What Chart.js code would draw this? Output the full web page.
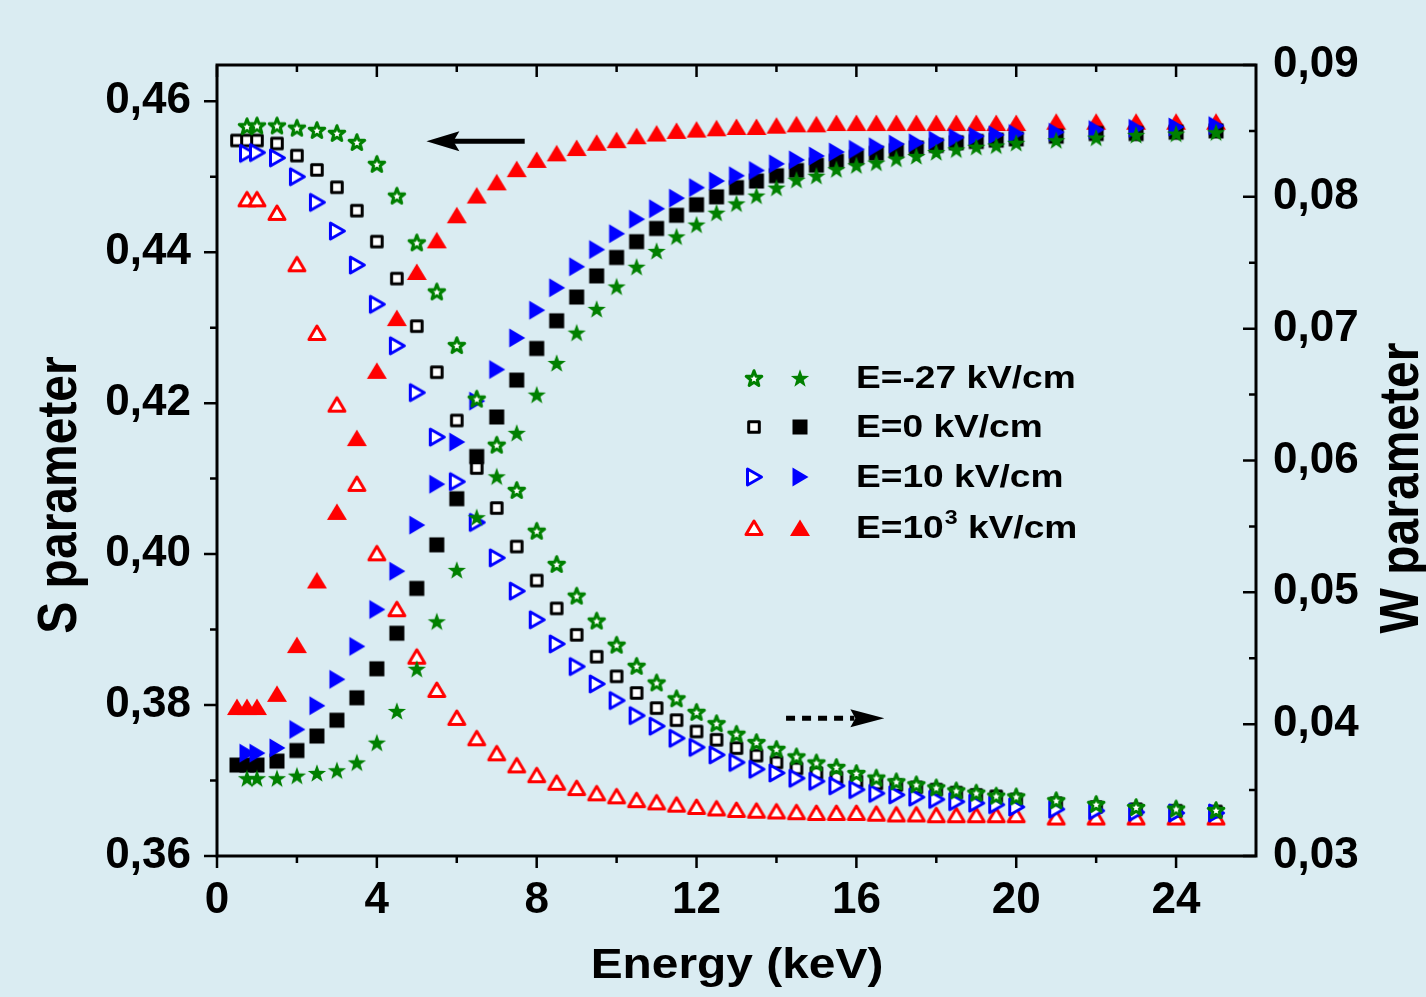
<!DOCTYPE html>
<html>
<head>
<meta charset="utf-8">
<script src="https://cdn.jsdelivr.net/npm/chart.js@4.4.1/dist/chart.umd.min.js"></script>
<style>
  html, body { margin: 0; padding: 0; background: #daecf2; }
  #wrap { width: 1426px; height: 997px; position: relative; }
</style>
</head>
<body>
<div id="wrap"><canvas id="sChart"></canvas></div>
<script>
// beam energy (keV)
const energies = [0.5, 0.75, 1, 1.5, 2, 2.5, 3, 3.5, 4, 4.5, 5, 5.5, 6, 6.5, 7, 7.5, 8, 8.5, 9, 9.5,
  10, 10.5, 11, 11.5, 12, 12.5, 13, 13.5, 14, 14.5, 15, 15.5, 16, 16.5, 17, 17.5, 18, 18.5, 19, 19.5,
  20, 21, 22, 23, 24, 25];

// S parameter (open symbols, left axis)
const sNeg27 = [null, 0.4567, 0.4568, 0.4568, 0.4565, 0.4562, 0.4558, 0.4546, 0.4517, 0.4475,
  0.4413, 0.4348, 0.4277, 0.4206, 0.4145, 0.4085, 0.4031, 0.3987, 0.3945, 0.3912,
  0.3880, 0.3852, 0.3830, 0.3809, 0.3791, 0.3776, 0.3762, 0.3751, 0.3742, 0.3732,
  0.3724, 0.3718, 0.3710, 0.3704, 0.3699, 0.3695, 0.3691, 0.3687, 0.3684, 0.3680,
  0.3679, 0.3674, 0.3669, 0.3665, 0.3663, 0.3661];
const s0 = [0.4548, 0.4548, 0.4548, 0.4544, 0.4528, 0.4509, 0.4486, 0.4455, 0.4414, 0.4365,
  0.4302, 0.4241, 0.4177, 0.4114, 0.4061, 0.4010, 0.3965, 0.3928, 0.3893, 0.3864,
  0.3838, 0.3816, 0.3796, 0.3780, 0.3765, 0.3754, 0.3743, 0.3733, 0.3724, 0.3716,
  0.3710, 0.3704, 0.3699, 0.3696, 0.3694, 0.3691, 0.3688, 0.3684, 0.3681, 0.3679,
  0.3675, 0.3670, 0.3665, 0.3662, 0.3660, 0.3659];
const s10 = [null, 0.4531, 0.4532, 0.4525, 0.4500, 0.4466, 0.4428, 0.4383, 0.4331, 0.4276,
  0.4214, 0.4155, 0.4096, 0.4042, 0.3995, 0.3951, 0.3913, 0.3881, 0.3851, 0.3828,
  0.3806, 0.3786, 0.3772, 0.3756, 0.3744, 0.3734, 0.3724, 0.3715, 0.3710, 0.3703,
  0.3699, 0.3693, 0.3688, 0.3683, 0.3681, 0.3678, 0.3675, 0.3672, 0.3670, 0.3668,
  0.3665, 0.3662, 0.3660, 0.3658, 0.3657, 0.3657];
const s1000 = [null, 0.4470, 0.4470, 0.4452, 0.4384, 0.4293, 0.4198, 0.4093, 0.4001, 0.3927,
  0.3864, 0.3820, 0.3783, 0.3756, 0.3736, 0.3720, 0.3707, 0.3697, 0.3690, 0.3683,
  0.3679, 0.3674, 0.3671, 0.3668, 0.3665, 0.3663, 0.3661, 0.3660, 0.3659, 0.3658,
  0.3657, 0.3657, 0.3657, 0.3656, 0.3655, 0.3655, 0.3654, 0.3654, 0.3654, 0.3654,
  0.3654, 0.3651, 0.3651, 0.3651, 0.3651, 0.3651];

// W parameter (filled symbols, right axis)
const wNeg27 = [null, 0.0359, 0.0359, 0.0359, 0.0361, 0.0363, 0.0365, 0.0371, 0.0386, 0.0410,
  0.0442, 0.0478, 0.0517, 0.0557, 0.0588, 0.0621, 0.0650, 0.0674, 0.0697, 0.0715,
  0.0732, 0.0747, 0.0759, 0.0770, 0.0779, 0.0788, 0.0795, 0.0801, 0.0807, 0.0813,
  0.0816, 0.0821, 0.0824, 0.0826, 0.0829, 0.0831, 0.0834, 0.0836, 0.0838, 0.0839,
  0.0841, 0.0843, 0.0845, 0.0847, 0.0848, 0.0849];
const w0 = [0.0369, 0.0369, 0.0369, 0.0372, 0.0380, 0.0391, 0.0403, 0.0420, 0.0442, 0.0469,
  0.0503, 0.0536, 0.0571, 0.0603, 0.0633, 0.0661, 0.0685, 0.0706, 0.0724, 0.0740,
  0.0754, 0.0766, 0.0776, 0.0786, 0.0794, 0.0800, 0.0807, 0.0812, 0.0816, 0.0820,
  0.0824, 0.0827, 0.0830, 0.0833, 0.0835, 0.0837, 0.0839, 0.0841, 0.0842, 0.0843,
  0.0844, 0.0846, 0.0848, 0.0848, 0.0849, 0.0850];
const w10 = [null, 0.0378, 0.0378, 0.0382, 0.0396, 0.0414, 0.0434, 0.0459, 0.0487, 0.0516,
  0.0551, 0.0582, 0.0614, 0.0645, 0.0669, 0.0693, 0.0714, 0.0731, 0.0747, 0.0760,
  0.0772, 0.0783, 0.0791, 0.0799, 0.0807, 0.0812, 0.0816, 0.0820, 0.0825, 0.0828,
  0.0831, 0.0834, 0.0836, 0.0838, 0.0840, 0.0841, 0.0843, 0.0845, 0.0846, 0.0847,
  0.0848, 0.0849, 0.0851, 0.0852, 0.0853, 0.0854];
const w1000 = [0.0413, 0.0413, 0.0413, 0.0423, 0.0460, 0.0509, 0.0561, 0.0617, 0.0668, 0.0708,
  0.0743, 0.0767, 0.0786, 0.0801, 0.0811, 0.0821, 0.0828, 0.0833, 0.0837, 0.0841,
  0.0843, 0.0846, 0.0848, 0.0850, 0.0851, 0.0852, 0.0853, 0.0853, 0.0854, 0.0855,
  0.0855, 0.0856, 0.0856, 0.0856, 0.0856, 0.0856, 0.0856, 0.0856, 0.0856, 0.0856,
  0.0856, 0.0857, 0.0857, 0.0857, 0.0857, 0.0857];

const xTicks = [0, 4, 8, 12, 16, 20, 24];
const sTicks = [0.36, 0.38, 0.40, 0.42, 0.44, 0.46];
const wTicks = [0.03, 0.04, 0.05, 0.06, 0.07, 0.08, 0.09];
const fieldLabels = ['E=-27 kV/cm', 'E=0 kV/cm', 'E=10 kV/cm', 'E=10³ kV/cm'];

const FONT = "'Liberation Sans', Arial, sans-serif";
const GREEN = '#008000', BLUE = '#0000ff', RED = '#ff0000', BLACK = '#000000';

// marker images (Chart.js star is an asterisk, so draw our own symbols)
function makeMarker(kind, color, filled) {
  const c = document.createElement('canvas');
  c.width = 28; c.height = 28;
  const g = c.getContext('2d');
  g.translate(14, 14);
  g.beginPath();
  if (kind === 'star') {
    const R = filled ? 9.6 : 8.2, r = filled ? 3.9 : 3.4;
    for (let i = 0; i < 10; i++) {
      const rad = i % 2 ? r : R;
      const a = -Math.PI / 2 + i * Math.PI / 5;
      g.lineTo(rad * Math.cos(a), rad * Math.sin(a) + 0.9);
    }
  } else if (kind === 'square') {
    const h = filled ? 7.5 : 5.3;
    g.rect(-h, -h, 2 * h, 2 * h);
  } else if (kind === 'right') {
    if (filled) { g.moveTo(-7.5, -9.5); g.lineTo(8.5, 0); g.lineTo(-7.5, 9.5); }
    else { g.moveTo(-6.5, -8); g.lineTo(7.5, 0); g.lineTo(-6.5, 8); }
  } else {
    if (filled) { g.moveTo(0, -8.5); g.lineTo(10, 8); g.lineTo(-10, 8); }
    else { g.moveTo(0, -7); g.lineTo(8, 6.5); g.lineTo(-8, 6.5); }
  }
  g.closePath();
  if (filled) {
    g.fillStyle = color; g.fill();
  } else {
    g.fillStyle = '#ffffff'; g.fill();
    g.lineWidth = kind === 'star' ? 3 : 3;
    g.lineJoin = 'round';
    g.strokeStyle = color; g.stroke();
  }
  return c;
}

const markers = {
  starOpen: makeMarker('star', GREEN, false), starFull: makeMarker('star', GREEN, true),
  sqOpen: makeMarker('square', BLACK, false), sqFull: makeMarker('square', BLACK, true),
  rightOpen: makeMarker('right', BLUE, false), rightFull: makeMarker('right', BLUE, true),
  upOpen: makeMarker('up', RED, false), upFull: makeMarker('up', RED, true)
};

function points(vals) {
  return energies.map((e, i) => ({ x: e, y: vals[i] })).filter(p => p.y !== null);
}

function series(label, vals, marker, axis) {
  return {
    label: label, data: points(vals), yAxisID: axis,
    pointStyle: marker, pointRadius: 9, showLine: false
  };
}

function stretchText(ctx, str, x, y, sx) {
  ctx.save();
  ctx.translate(x, y);
  ctx.scale(sx, 1);
  ctx.fillText(str, 0, 0);
  ctx.restore();
  return ctx.measureText(str).width * sx;
}

const decor = {
  id: 'decor',
  afterDraw(chart) {
    const ctx = chart.ctx, a = chart.chartArea;
    const x = chart.scales.x, y = chart.scales.y, y2 = chart.scales.y2;
    ctx.save();

    // frame
    ctx.strokeStyle = '#000';
    ctx.lineWidth = 3;
    ctx.strokeRect(a.left, a.top, a.right - a.left, a.bottom - a.top);

    // tick marks
    ctx.lineWidth = 2.5;
    ctx.beginPath();
    for (let v = 0; v <= 24; v += 2) {
      const px = x.getPixelForValue(v);
      const len = v % 4 === 0 ? 12 : 7;
      ctx.moveTo(px, a.bottom); ctx.lineTo(px, a.bottom + len);
      ctx.moveTo(px, a.top); ctx.lineTo(px, a.top + len);
    }
    for (let i = 0; i <= 10; i++) {
      const py = y.getPixelForValue(0.36 + i * 0.01);
      const len = i % 2 === 0 ? 13 : 7;
      ctx.moveTo(a.left, py); ctx.lineTo(a.left - len, py);
    }
    for (let i = 0; i <= 12; i++) {
      const py = y2.getPixelForValue(0.03 + i * 0.005);
      const len = i % 2 === 0 ? 13 : 7;
      ctx.moveTo(a.right, py); ctx.lineTo(a.right - len, py);
    }
    ctx.stroke();

    // solid arrow -> S axis
    let ay = y.getPixelForValue(0.4547);
    let x0 = x.getPixelForValue(5.24), x1 = x.getPixelForValue(7.7);
    ctx.lineWidth = 5;
    ctx.beginPath(); ctx.moveTo(x0 + 20, ay); ctx.lineTo(x1, ay); ctx.stroke();
    ctx.beginPath();
    ctx.moveTo(x0, ay); ctx.lineTo(x0 + 33, ay - 10); ctx.lineTo(x0 + 27, ay); ctx.lineTo(x0 + 33, ay + 10);
    ctx.closePath(); ctx.fillStyle = '#000'; ctx.fill();

    // dashed arrow -> W axis
    ay = y2.getPixelForValue(0.04045);
    x0 = x.getPixelForValue(14.24); x1 = x.getPixelForValue(16.7);
    ctx.lineWidth = 5;
    ctx.setLineDash([9, 7]);
    ctx.beginPath(); ctx.moveTo(x0, ay); ctx.lineTo(x1 - 30, ay); ctx.stroke();
    ctx.setLineDash([]);
    ctx.beginPath();
    ctx.moveTo(x1, ay); ctx.lineTo(x1 - 34, ay - 9); ctx.lineTo(x1 - 29, ay); ctx.lineTo(x1 - 34, ay + 9);
    ctx.closePath(); ctx.fill();

    // axis titles
    ctx.fillStyle = '#000';
    ctx.font = 'bold 42px ' + FONT;
    ctx.textAlign = 'center';
    ctx.textBaseline = 'alphabetic';
    stretchText(ctx, 'Energy (keV)', 737, 978, 1.14);

    ctx.font = 'bold 48px ' + FONT;
    ctx.save(); ctx.translate(76, 495); ctx.scale(1.15, 1); ctx.rotate(-Math.PI / 2);
    ctx.fillText('S parameter', 0, 0); ctx.restore();
    ctx.save(); ctx.translate(1418, 488); ctx.scale(1.15, 1); ctx.rotate(-Math.PI / 2);
    ctx.fillText('W parameter', 0, 0); ctx.restore();

    // legend
    const rows = [
      [markers.starOpen, markers.starFull, 378],
      [markers.sqOpen, markers.sqFull, 427],
      [markers.rightOpen, markers.rightFull, 477],
      [markers.upOpen, markers.upFull, 528]
    ];
    ctx.textAlign = 'left';
    ctx.textBaseline = 'middle';
    rows.forEach((r, i) => {
      ctx.drawImage(r[0], 754 - r[0].width / 2, r[2] - r[0].height / 2);
      ctx.drawImage(r[1], 800 - r[1].width / 2, r[2] - r[1].height / 2);
      ctx.font = 'bold 32px ' + FONT;
      const txt = fieldLabels[i];
      const sup = txt.indexOf('³');
      if (sup < 0) {
        stretchText(ctx, txt, 856, r[2] + 1, 1.16);
      } else {
        let px = 856;
        px += stretchText(ctx, txt.slice(0, sup), px, r[2] + 1, 1.16);
        ctx.font = 'bold 20px ' + FONT;
        px += stretchText(ctx, '3', px + 1, r[2] - 10, 1.16) + 1;
        ctx.font = 'bold 32px ' + FONT;
        stretchText(ctx, txt.slice(sup + 1), px, r[2] + 1, 1.16);
      }
    });
    ctx.restore();
  }
};

const tickFont = (size) => ({ family: FONT, size: size, weight: 'bold' });
const comma = v => Number(v).toFixed(2).replace('.', ',');

new Chart(document.getElementById('sChart'), {
  type: 'scatter',
  data: {
    datasets: [
      series('E=-27 kV/cm S', sNeg27, markers.starOpen, 'y'),
      series('E=-27 kV/cm W', wNeg27, markers.starFull, 'y2'),
      series('E=10 kV/cm S', s10, markers.rightOpen, 'y'),
      series('E=10 kV/cm W', w10, markers.rightFull, 'y2'),
      series('E=0 kV/cm S', s0, markers.sqOpen, 'y'),
      series('E=0 kV/cm W', w0, markers.sqFull, 'y2'),
      series('E=10³ kV/cm S', s1000, markers.upOpen, 'y'),
      series('E=10³ kV/cm W', w1000, markers.upFull, 'y2')
    ]
  },
  options: {
    responsive: true,
    maintainAspectRatio: false,
    animation: false,
    layout: { padding: { top: 65, left: 0, right: 0, bottom: 0 } },
    plugins: { legend: { display: false }, tooltip: { enabled: false } },
    scales: {
      x: {
        type: 'linear', position: 'bottom', min: 0, max: 26,
        afterFit: s => { s.height = 141; },
        afterBuildTicks: s => { s.ticks = xTicks.map(v => ({ value: v })); },
        grid: { display: false, drawTicks: false },
        border: { display: false },
        ticks: { autoSkip: false, maxRotation: 0, padding: 18, color: '#000', font: tickFont(44) }
      },
      y: {
        type: 'linear', position: 'left', min: 0.36, max: 0.4648,
        afterFit: s => { s.width = 217; },
        afterBuildTicks: s => { s.ticks = sTicks.map(v => ({ value: v })); },
        grid: { display: false, drawTicks: false },
        border: { display: false },
        ticks: { autoSkip: false, padding: 26, color: '#000', font: tickFont(44), callback: comma }
      },
      y2: {
        type: 'linear', position: 'right', min: 0.03, max: 0.09,
        afterFit: s => { s.width = 170; },
        afterBuildTicks: s => { s.ticks = wTicks.map(v => ({ value: v })); },
        grid: { display: false, drawTicks: false },
        border: { display: false },
        ticks: { autoSkip: false, padding: 17, color: '#000', font: tickFont(44), callback: comma }
      }
    }
  },
  plugins: [decor]
});
</script>
</body>
</html>
